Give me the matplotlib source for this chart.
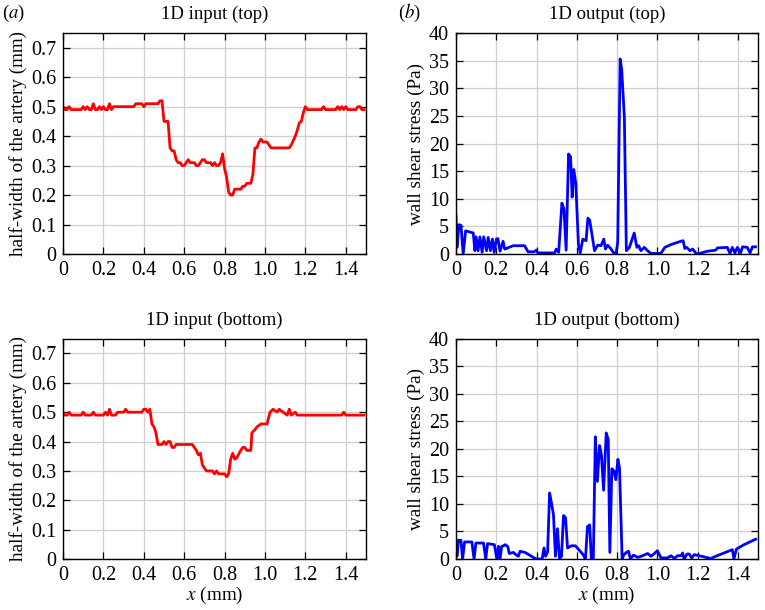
#Recreate the four-panel 1D input / output figure
import matplotlib
matplotlib.use('Agg')
import matplotlib.pyplot as plt

plt.rcParams['font.family'] = ['Liberation Serif', 'DejaVu Serif']
plt.rcParams['mathtext.fontset'] = 'stix'

#half-width of the artery, top wall
x_in_top = [0.00, 0.01, 0.02, 0.03, 0.04, 0.09, 0.10, 0.11, 0.12, 0.13, 0.14, 0.15, 0.16, 0.17, 0.18, 0.19,
            0.20, 0.21, 0.22, 0.23, 0.24, 0.25, 0.35, 0.36, 0.39, 0.40, 0.41, 0.47, 0.48, 0.49, 0.50, 0.52,
            0.53, 0.54, 0.55, 0.56, 0.57, 0.58, 0.59, 0.60, 0.61, 0.62, 0.63, 0.65, 0.66, 0.67, 0.68, 0.69,
            0.70, 0.71, 0.73, 0.74, 0.75, 0.76, 0.77, 0.78, 0.79, 0.80, 0.81, 0.82, 0.83, 0.84, 0.85, 0.88,
            0.89, 0.90, 0.91, 0.93, 0.94, 0.95, 0.96, 0.97, 0.98, 0.99, 1.01, 1.02, 1.03, 1.12, 1.13, 1.14,
            1.15, 1.16, 1.17, 1.18, 1.19, 1.20, 1.21, 1.28, 1.29, 1.30, 1.35, 1.36, 1.37, 1.38, 1.39, 1.40,
            1.41, 1.42, 1.45, 1.46, 1.47, 1.48, 1.49]
y_in_top = [0.50, 0.49, 0.49, 0.50, 0.49, 0.49, 0.50, 0.49, 0.50, 0.49, 0.49, 0.51, 0.49, 0.49, 0.50, 0.49,
            0.50, 0.49, 0.49, 0.51, 0.49, 0.50, 0.50, 0.51, 0.51, 0.50, 0.51, 0.51, 0.52, 0.52, 0.45, 0.45,
            0.36, 0.35, 0.35, 0.32, 0.31, 0.31, 0.30, 0.30, 0.31, 0.32, 0.31, 0.31, 0.30, 0.30, 0.31, 0.32,
            0.32, 0.31, 0.31, 0.30, 0.31, 0.30, 0.30, 0.31, 0.34, 0.29, 0.26, 0.21, 0.20, 0.20, 0.22, 0.22,
            0.23, 0.23, 0.24, 0.24, 0.27, 0.36, 0.36, 0.38, 0.39, 0.38, 0.38, 0.37, 0.36, 0.36, 0.37, 0.385,
            0.40, 0.42, 0.445, 0.45, 0.48, 0.50, 0.49, 0.49, 0.50, 0.49, 0.49, 0.50, 0.49, 0.50, 0.49, 0.50,
            0.49, 0.49, 0.49, 0.50, 0.50, 0.49, 0.49]

#half-width of the artery, bottom wall
x_in_bot = [0.00, 0.01, 0.02, 0.03, 0.04, 0.09, 0.10, 0.11, 0.14, 0.15, 0.16, 0.20, 0.21, 0.22, 0.23, 0.24,
            0.26, 0.27, 0.30, 0.31, 0.32, 0.39, 0.40, 0.41, 0.42, 0.43, 0.44, 0.45, 0.46, 0.47, 0.49, 0.50,
            0.51, 0.52, 0.53, 0.54, 0.55, 0.56, 0.64, 0.66, 0.67, 0.68, 0.69, 0.70, 0.71, 0.74, 0.75, 0.76,
            0.77, 0.79, 0.80, 0.81, 0.82, 0.83, 0.84, 0.85, 0.86, 0.88, 0.89, 0.90, 0.91, 0.93, 0.935, 0.95,
            0.96, 0.98, 1.01, 1.025, 1.04, 1.06, 1.07, 1.09, 1.11, 1.12, 1.13, 1.15, 1.16, 1.38, 1.39, 1.40,
            1.49]
y_in_bot = [0.50, 0.49, 0.49, 0.50, 0.49, 0.49, 0.50, 0.49, 0.49, 0.50, 0.49, 0.49, 0.50, 0.49, 0.51, 0.49,
            0.49, 0.50, 0.50, 0.51, 0.50, 0.50, 0.51, 0.51, 0.50, 0.51, 0.46, 0.45, 0.43, 0.39, 0.39, 0.40,
            0.39, 0.40, 0.40, 0.38, 0.38, 0.39, 0.39, 0.37, 0.355, 0.36, 0.32, 0.31, 0.30, 0.30, 0.29, 0.30,
            0.29, 0.29, 0.29, 0.28, 0.29, 0.34, 0.36, 0.34, 0.345, 0.37, 0.38, 0.38, 0.37, 0.37, 0.43, 0.44,
            0.45, 0.46, 0.46, 0.50, 0.51, 0.50, 0.51, 0.50, 0.49, 0.51, 0.49, 0.50, 0.49, 0.49, 0.50, 0.49,
            0.49]

#wall shear stress, top wall
x_out_top = [0.000, 0.005, 0.015, 0.025, 0.036, 0.048, 0.086, 0.094, 0.100, 0.110, 0.119, 0.130, 0.138,
             0.152, 0.160, 0.171, 0.181, 0.190, 0.201, 0.208, 0.219, 0.234, 0.242, 0.250, 0.284, 0.341,
             0.358, 0.387, 0.399, 0.407, 0.490, 0.498, 0.510, 0.526, 0.536, 0.547, 0.559, 0.569, 0.577,
             0.585, 0.595, 0.608, 0.617, 0.630, 0.646, 0.655, 0.664, 0.688, 0.704, 0.720, 0.734, 0.742,
             0.753, 0.770, 0.783, 0.795, 0.803, 0.815, 0.823, 0.836, 0.846, 0.861, 0.885, 0.898, 0.907,
             0.918, 0.935, 0.951, 0.968, 1.017, 1.037, 1.067, 1.116, 1.128, 1.136, 1.145, 1.162, 1.175,
             1.190, 1.200, 1.248, 1.290, 1.298, 1.347, 1.360, 1.372, 1.385, 1.397, 1.413, 1.423, 1.446,
             1.460, 1.472, 1.487]
y_out_top = [7.0, 1.2, 5.3, 5.2, 0.0, 4.2, 3.8, 0.6, 3.1, 0.6, 3.1, 0.3, 3.1, 0.6, 3.0, 0.6, 2.7, 0.3,
             2.7, 2.8, 0.5, 2.3, 0.9, 1.0, 1.5, 1.5, 0.4, 0.4, 0.7, 0.2, 0.2, 0.9, 0.3, 9.2, 8.2, 0.7,
             18.1, 17.6, 10.3, 15.3, 12.7, 1.8, 0.2, 2.7, 2.4, 6.5, 6.1, 0.6, 1.6, 1.5, 2.7, 0.9, 1.6,
             0.9, 0.2, 0.1, 2.1, 35.3, 33.3, 24.8, 0.6, 1.2, 3.8, 1.2, 1.5, 0.6, 1.2, 0.6, 0.1, 0.1, 1.2,
             1.7, 2.3, 2.4, 1.0, 1.2, 0.6, 0.9, 0.2, 0.0, 0.5, 0.7, 1.1, 1.2, 0.1, 1.2, 0.2, 1.2, 0.2,
             1.3, 1.2, 0.2, 1.3, 1.3]

#wall shear stress, bottom wall
x_out_bot = [0.000, 0.005, 0.013, 0.025, 0.033, 0.043, 0.079, 0.090, 0.099, 0.137, 0.148, 0.157, 0.191,
             0.203, 0.211, 0.219, 0.227, 0.236, 0.244, 0.257, 0.265, 0.285, 0.297, 0.310, 0.318, 0.343,
             0.384, 0.400, 0.428, 0.437, 0.445, 0.455, 0.465, 0.474, 0.484, 0.494, 0.504, 0.514, 0.524,
             0.534, 0.544, 0.554, 0.573, 0.593, 0.610, 0.631, 0.643, 0.653, 0.664, 0.672, 0.682, 0.692,
             0.702, 0.713, 0.722, 0.733, 0.746, 0.756, 0.764, 0.774, 0.784, 0.794, 0.804, 0.812, 0.825,
             0.834, 0.850, 0.857, 0.866, 0.881, 0.903, 0.920, 0.952, 0.968, 0.985, 1.000, 1.018, 1.050,
             1.068, 1.084, 1.100, 1.117, 1.125, 1.133, 1.147, 1.158, 1.170, 1.183, 1.265, 1.290, 1.372,
             1.380, 1.392, 1.430, 1.488]
y_out_bot = [3.6, 0.5, 3.4, 3.4, 0.0, 3.1, 3.1, 0.0, 2.9, 2.9, 0.0, 2.8, 2.6, 0.0, 2.3, 0.0, 2.3, 2.4,
             2.6, 2.3, 1.0, 1.2, 0.8, 0.5, 1.4, 1.2, 0.3, 0.0, 0.0, 2.0, 0.5, 1.3, 12.0, 10.2, 8.1, 0.5,
             5.5, 0.0, 0.5, 7.9, 7.5, 2.0, 2.4, 2.4, 1.7, 0.8, 0.0, 5.9, 6.2, 0.0, 0.0, 22.2, 14.1, 20.6,
             19.0, 12.5, 22.9, 21.7, 1.2, 16.4, 16.0, 14.4, 18.1, 16.5, 0.0, 0.8, 1.3, 1.4, 0.0, 0.7, 0.3,
             0.5, 1.0, 0.5, 1.0, 1.5, 0.2, 0.2, 0.6, 0.1, 0.6, 0.6, 1.1, 0.0, 0.9, 0.9, 0.2, 0.8, 0.1,
             0.5, 1.7, 0.0, 1.8, 2.6, 3.6]

xticks = [0, 0.2, 0.4, 0.6, 0.8, 1.0, 1.2, 1.4]
xticklabels = ['0', '0.2', '0.4', '0.6', '0.8', '1.0', '1.2', '1.4']
yticks_in = [0, 0.1, 0.2, 0.3, 0.4, 0.5, 0.6, 0.7]
yticklabels_in = ['0', '0.1', '0.2', '0.3', '0.4', '0.5', '0.6', '0.7']
yticks_out = [0, 5, 10, 15, 20, 25, 30, 35, 40]

fig = plt.figure(figsize=(7.65, 6.1), dpi=100)
ax1 = fig.add_axes([0.0824, 0.5836, 0.396, 0.3623])
ax2 = fig.add_axes([0.596, 0.5836, 0.395, 0.3623])
ax3 = fig.add_axes([0.0824, 0.0836, 0.396, 0.361])
ax4 = fig.add_axes([0.596, 0.0836, 0.395, 0.361])

fs = 13.5
tfs = 14.5

def style(ax, title, ylabel, xlabel=None):
    ax.set_xlim(0, 1.5)
    ax.set_xticks(xticks)
    ax.set_xticklabels(xticklabels)
    ax.grid(True, color='#cfcfcf', linewidth=0.9)
    ax.set_axisbelow(True)
    ax.tick_params(direction='in', top=True, right=True, length=5, width=0.9, labelsize=tfs, pad=5)
    for sp in ax.spines.values():
        sp.set_linewidth(1.0)
    ax.set_title(title, fontsize=fs, pad=10)
    ax.set_ylabel(ylabel, fontsize=fs + 0.3, labelpad=3)
    if xlabel:
        ax.set_xlabel(xlabel, fontsize=fs + 0.3, labelpad=0)

ax1.plot(x_in_top, y_in_top, color='#ff0000', lw=2.0)
ax3.plot(x_in_bot, y_in_bot, color='#ff0000', lw=2.0)
ax2.plot(x_out_top, y_out_top, color='#0000ff', lw=2.0)
ax4.plot(x_out_bot, y_out_bot, color='#0000ff', lw=2.0)

for ax in (ax1, ax3):
    ax.set_ylim(0, 0.75)
    ax.set_yticks(yticks_in)
    ax.set_yticklabels(yticklabels_in)
for ax in (ax2, ax4):
    ax.set_ylim(0, 40)
    ax.set_yticks(yticks_out)

style(ax1, '1D input (top)', 'half-width of the artery (mm)')
style(ax2, '1D output (top)', 'wall shear stress (Pa)')
style(ax3, '1D input (bottom)', 'half-width of the artery (mm)', r'$x$ (mm)')
style(ax4, '1D output (bottom)', 'wall shear stress (Pa)', r'$x$ (mm)')

fig.text(0.003, 0.978, r'($a$)', fontsize=fs, va='center')
fig.text(0.52, 0.978, r'($b$)', fontsize=fs, va='center')

fig.savefig('out.png', dpi=100)
